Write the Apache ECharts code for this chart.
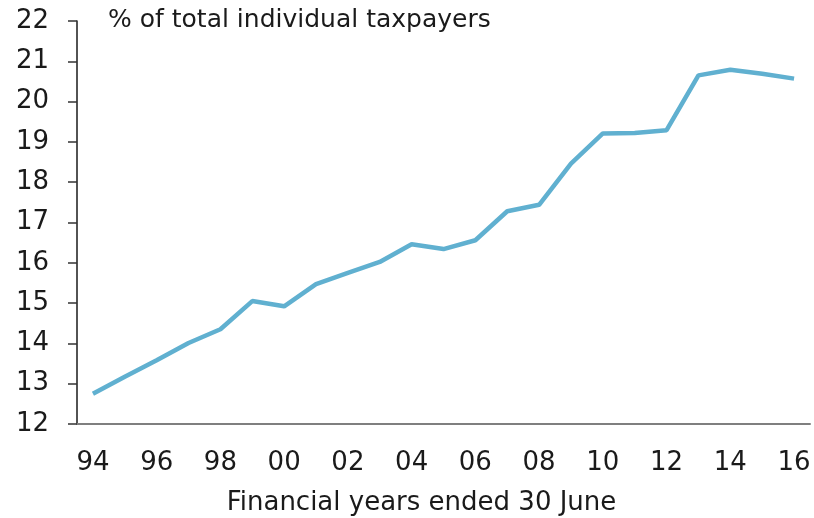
<!DOCTYPE html>
<html>
<head>
<meta charset="utf-8">
<script src="https://cdn.jsdelivr.net/npm/echarts@6/dist/echarts.min.js"></script>
<style>
  html, body { margin: 0; padding: 0; background: #fff; }
  #chart { width: 814px; height: 518px; }
</style>
</head>
<body>
<div id="chart"></div>
<script>
// financial years ended 30 June, 1994 - 2016
const years = ["94", "95", "96", "97", "98", "99", "00", "01", "02", "03", "04", "05",
  "06", "07", "08", "09", "10", "11", "12", "13", "14", "15", "16"];
// % of total individual taxpayers
const share = [12.75, 13.17, 13.58, 14.01, 14.35, 15.05, 14.92, 15.47, 15.75, 16.02, 16.46, 16.34,
  16.56, 17.28, 17.44, 18.46, 19.21, 19.22, 19.29, 20.65, 20.79, 20.69, 20.57];

const font = "DejaVu Sans";
const myChart = echarts.init(document.getElementById("chart"));
const option = {
  animation: false,
  title: {
    text: "% of total individual taxpayers",
    left: 103,
    top: 3,
    textStyle: { fontFamily: font, fontSize: 25, fontWeight: "normal", color: "#1a1a1a" },
  },
  grid: { left: 77, right: 4, top: 21, bottom: 94, outerBoundsMode: "none" },
  xAxis: {
    type: "category",
    data: years,
    boundaryGap: true,
    name: "Financial years ended 30 June",
    nameLocation: "middle",
    nameGap: 66,
    // name sits a bit left of the plot centre
    nameTextStyle: { fontFamily: font, fontSize: 26, color: "#1a1a1a", padding: [0, 44, 0, 0] },
    axisLine: { lineStyle: { color: "#7f7f7f", width: 2 } },
    axisTick: { interval: 0, length: 9, lineStyle: { color: "#333", width: 1.5 } },
    axisLabel: { interval: 1, margin: 26, fontFamily: font, fontSize: 26, color: "#1a1a1a" },
  },
  yAxis: {
    type: "value",
    min: 12,
    max: 22,
    interval: 1,
    splitLine: { show: false },
    axisLine: { show: true, lineStyle: { color: "#1a1a1a", width: 1.5 } },
    axisTick: { show: true, length: 9, lineStyle: { color: "#333", width: 1.5 } },
    axisLabel: { margin: 28, fontFamily: font, fontSize: 26, color: "#1a1a1a" },
  },
  series: [
    {
      type: "line",
      data: share,
      symbol: "none",
      lineStyle: { color: "#60b0d0", width: 4.5 },
    },
  ],
};
myChart.setOption(option);
</script>
</body>
</html>
